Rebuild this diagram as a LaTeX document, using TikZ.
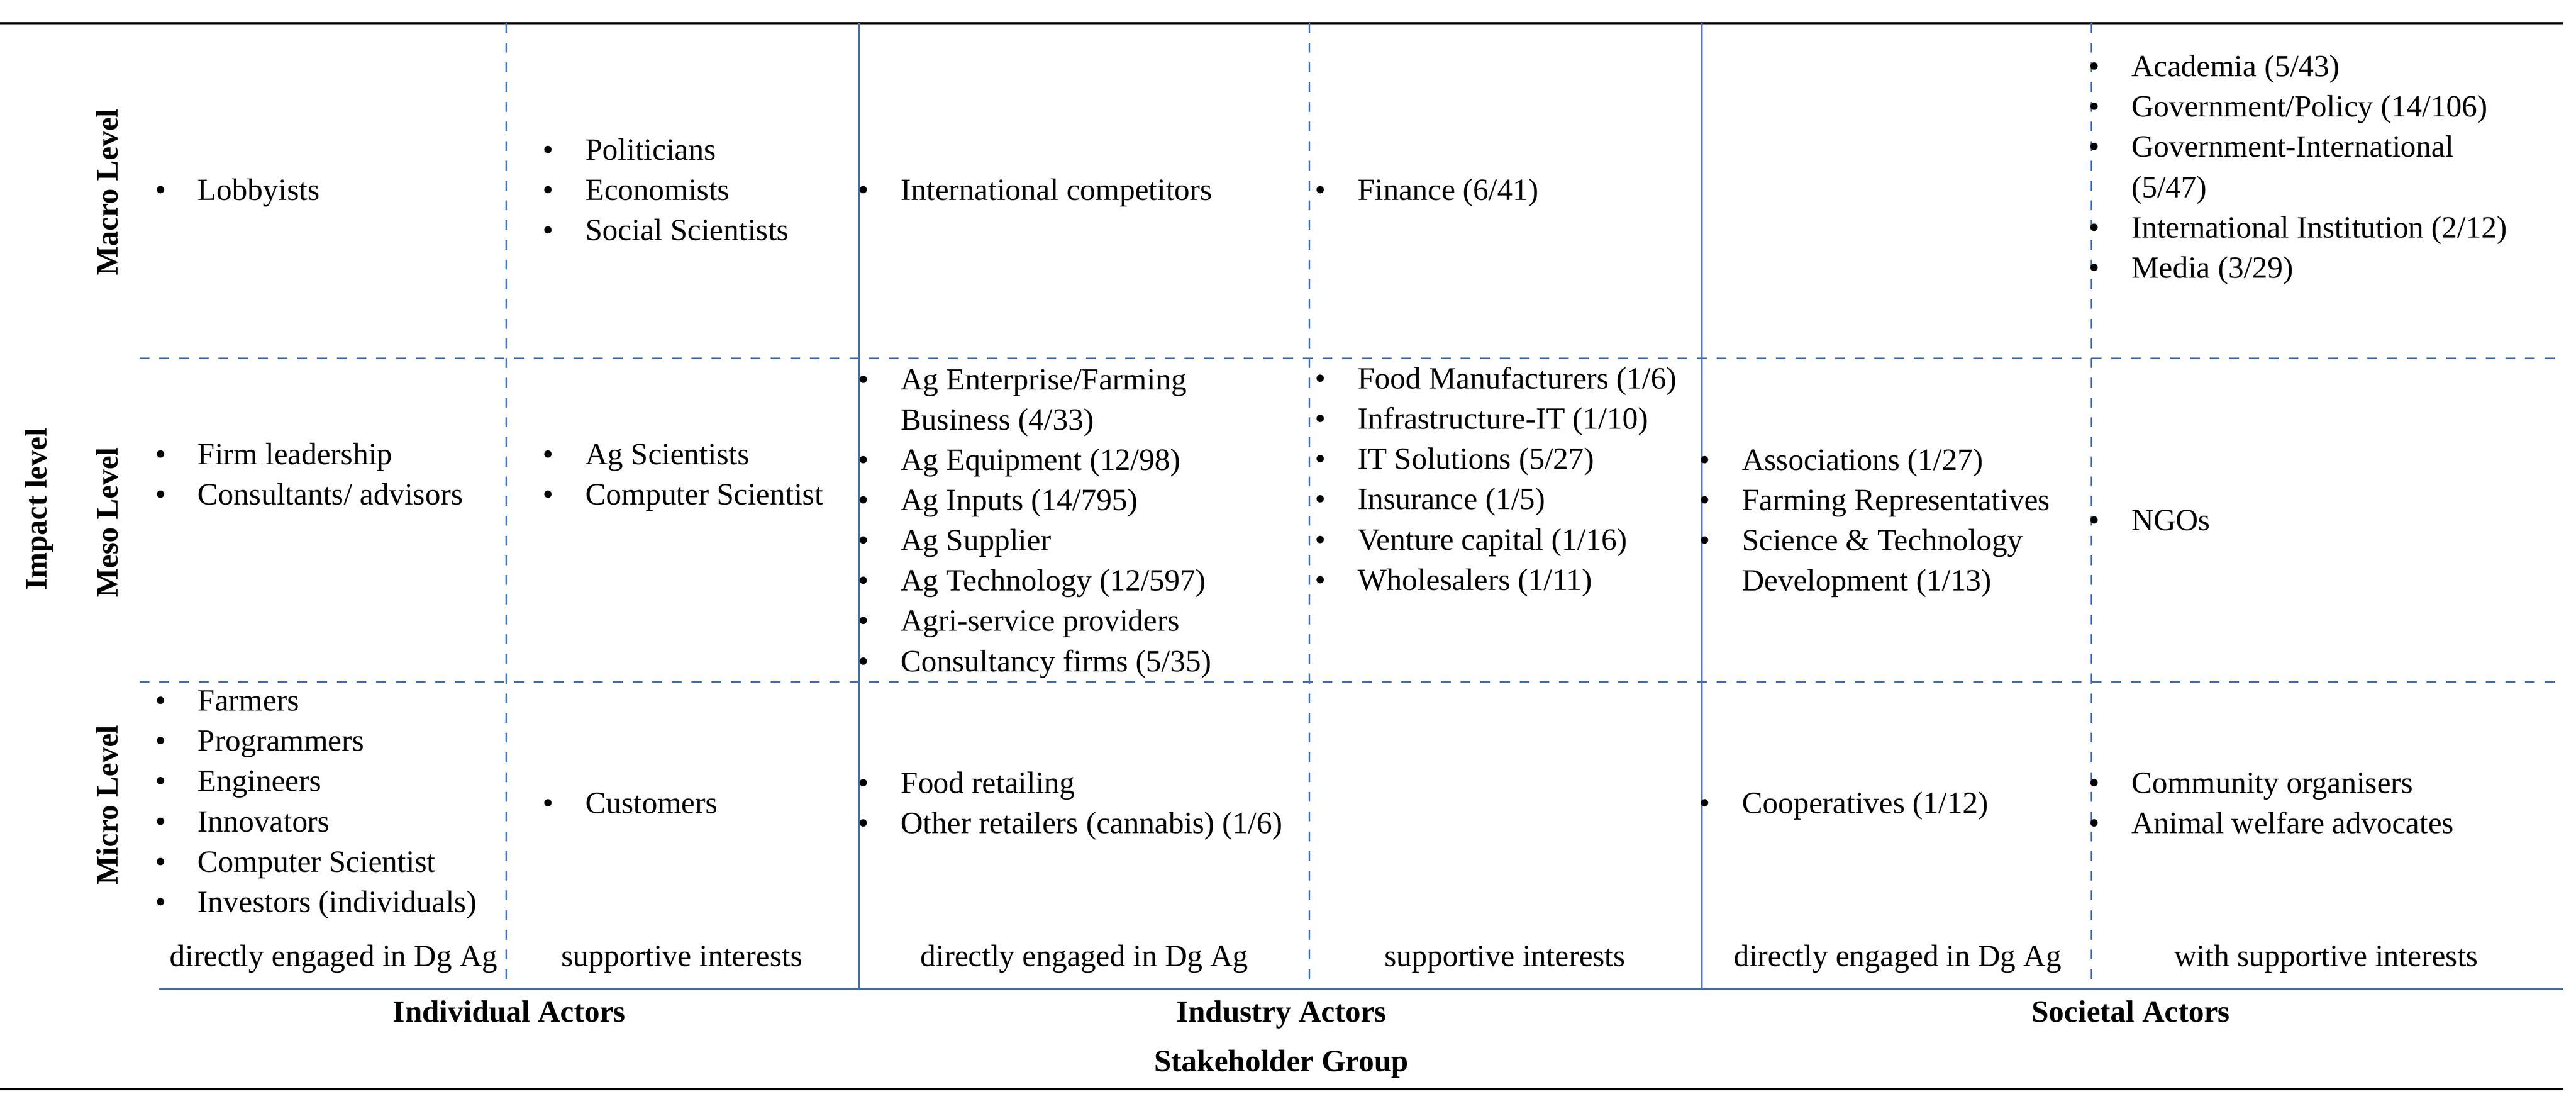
\documentclass[tikz,border=0pt]{standalone}
\usepackage{fontspec}
\setmainfont{Liberation Serif}
\usepackage{array}
\definecolor{lb}{RGB}{68,114,196}
\newcommand{\bl}[1]{{\fontsize{9.4}{12.25}\selectfont\begin{tabular}{@{}p{13pt}@{}l@{}}#1\end{tabular}}}
\newcommand{\bi}{\textbullet&}
\begin{document}
\begin{tikzpicture}[x=0.5pt,y=-0.5pt,
  lst/.style={anchor=west,inner sep=0pt},
  ctr/.style={inner sep=0pt,anchor=base,font=\fontsize{9.4}{12}\selectfont},
  hd/.style={inner sep=0pt,anchor=base,font=\fontsize{9.4}{12}\selectfont\bfseries},
  vhd/.style={inner sep=0pt,rotate=90,text depth=0pt,text height=6.5pt,font=\fontsize{9.4}{12}\selectfont\bfseries},
  sol/.style={lb,line width=0.5pt},
  dsh/.style={lb,line width=0.5pt,dashed}]
\useasboundingbox (0,0) rectangle (1568,679);
\draw[line width=0.6pt] (0,14) -- (1560,14);
\draw[line width=0.6pt] (0,663) -- (1560,663);
\draw[dsh] (85,218) -- (1560,218);
\draw[dsh] (85,415) -- (1560,415);
\draw[sol] (97,602) -- (1560,602);
\draw[dsh] (308,14) -- (308,602);
\draw[sol] (523,14) -- (523,602);
\draw[dsh] (797,14) -- (797,602);
\draw[sol] (1036,14) -- (1036,602);
\draw[dsh] (1273,14) -- (1273,602);
% left labels
\node[vhd] (il) at (22,310) {Impact level};
\node[vhd] (ma) at (65,117) {Macro Level};
\node[vhd] (me) at (65,318) {Meso Level};
\node[vhd] (mi) at (65,490) {Micro Level};
% macro
\node[lst] (a1) at (94,117) {\bl{\bi Lobbyists}};
\node[lst] (a2) at (330,117) {\bl{\bi Politicians\\\bi Economists\\\bi Social Scientists}};
\node[lst] (a3) at (522,117) {\bl{\bi International competitors}};
\node[lst] (a4) at (800,117) {\bl{\bi Finance (6/41)}};
\node[lst] (a6) at (1271,103) {\bl{\bi Academia (5/43)\\\bi Government/Policy (14/106)\\\bi Government-International\\ & (5/47)\\\bi International Institution (2/12)\\\bi Media (3/29)}};
% meso
\node[lst] (b1) at (94,290) {\bl{\bi Firm leadership\\\bi Consultants/ advisors}};
\node[lst] (b2) at (330,290) {\bl{\bi Ag Scientists\\\bi Computer Scientist}};
\node[lst] (b3) at (522,318) {\bl{\bi Ag Enterprise/Farming\\ & Business (4/33)\\\bi Ag Equipment (12/98)\\\bi Ag Inputs (14/795)\\\bi Ag Supplier\\\bi Ag Technology (12/597)\\\bi Agri-service providers\\\bi Consultancy firms (5/35)}};
\node[lst] (b4) at (800,293) {\bl{\bi Food Manufacturers (1/6)\\\bi Infrastructure-IT (1/10)\\\bi IT Solutions (5/27)\\\bi Insurance (1/5)\\\bi Venture capital (1/16)\\\bi Wholesalers (1/11)}};
\node[lst] (b5) at (1034,318) {\bl{\bi Associations (1/27)\\\bi Farming Representatives\\\bi Science \& Technology\\ & Development (1/13)}};
\node[lst] (b6) at (1271,318) {\bl{\bi NGOs}};
% micro
\node[lst] (c1) at (94,489) {\bl{\bi Farmers\\\bi Programmers\\\bi Engineers\\\bi Innovators\\\bi Computer Scientist\\\bi Investors (individuals)}};
\node[lst] (c2) at (330,490) {\bl{\bi Customers}};
\node[lst] (c3) at (522,490) {\bl{\bi Food retailing\\\bi Other retailers (cannabis) (1/6)}};
\node[lst] (c5) at (1034,490) {\bl{\bi Cooperatives (1/12)}};
\node[lst] (c6) at (1271,490) {\bl{\bi Community organisers\\\bi Animal welfare advocates}};
% bottom
\node[ctr] (d1) at (203,588) {directly engaged in Dg Ag};
\node[ctr] (d2) at (415,588) {supportive interests};
\node[ctr] (d3) at (660,588) {directly engaged in Dg Ag};
\node[ctr] (d4) at (916,588) {supportive interests};
\node[ctr] (d5) at (1155,588) {directly engaged in Dg Ag};
\node[ctr] (d6) at (1416,588) {with supportive interests};
\node[hd] (g1) at (310,622) {Individual Actors};
\node[hd] (g2) at (780,622) {Industry Actors};
\node[hd] (g3) at (1297,622) {Societal Actors};
\node[hd] (sg) at (780,652) {Stakeholder Group};
\end{tikzpicture}
\end{document}
